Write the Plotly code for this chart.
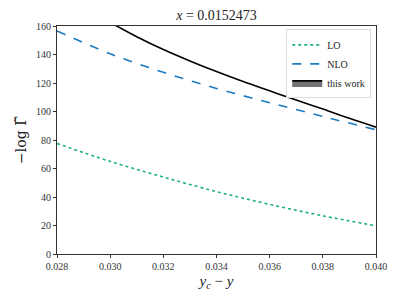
import plotly.graph_objects as go

# data
x_lo = [0.028, 0.030, 0.032, 0.034, 0.036, 0.038, 0.040]
lo = [77.5, 65.0, 54.0, 43.8, 34.8, 26.8, 19.8]

x_nlo = [0.028, 0.030, 0.032, 0.034, 0.036, 0.038, 0.040]
nlo = [156.5, 140.5, 127.5, 116.2, 106.2, 96.5, 87.2]

x_tw = [0.030, 0.031, 0.032, 0.033, 0.034, 0.035, 0.036, 0.037, 0.038, 0.039, 0.040]
tw = [162.5, 152.5, 143.5, 135.5, 128.0, 121.0, 114.5, 108.0, 101.8, 95.2, 89.0]

x_ticks = [0.028, 0.030, 0.032, 0.034, 0.036, 0.038, 0.040]
y_ticks = [0, 20, 40, 60, 80, 100, 120, 140, 160]

FONT = "Liberation Serif"

fig = go.Figure()
fig.add_trace(go.Scatter(x=x_lo, y=lo, mode="lines", name="LO",
                         line=dict(color="#1fb089", width=1.6, dash="dot", shape="spline")))
fig.add_trace(go.Scatter(x=x_nlo, y=nlo, mode="lines", name="NLO",
                         line=dict(color="#1a7bc2", width=1.6, dash="dash", shape="spline")))
fig.add_trace(go.Scatter(x=x_tw, y=tw, mode="lines", showlegend=False, legendgroup="tw",
                         line=dict(color="black", width=0, shape="spline"), hoverinfo="skip"))
fig.add_trace(go.Scatter(x=x_tw, y=tw, mode="lines", name="this work", legendgroup="tw",
                         fill="tonexty", fillcolor="rgba(80,80,80,0.8)",
                         line=dict(color="black", width=1.6, shape="spline")))

axis_common = dict(showgrid=False, zeroline=False, showline=True, linecolor="#333333",
                   linewidth=1, mirror=True, ticks="outside", ticklen=3, tickcolor="#333333",
                   tickfont=dict(family=FONT, size=10, color="#333333"))

fig.update_layout(
    width=391, height=291,
    margin=dict(l=43, r=21, t=17, b=43),
    paper_bgcolor="white", plot_bgcolor="white",
    font=dict(family=FONT, color="#222222"),
    title=dict(text="<i>x</i> = 0.0152473", x=0.5, xref="paper", y=0.976, yanchor="middle",
               font=dict(family=FONT, size=14, color="#222222")),
    xaxis=dict(range=[0.028, 0.040], tickvals=x_ticks,
               ticktext=[f"{v:.3f}" for v in x_ticks],
               title=dict(text="<i>y<sub>c</sub></i> − <i>y</i>", standoff=4,
                          font=dict(family=FONT, size=15)),
               **axis_common),
    yaxis=dict(range=[0, 160], tickvals=y_ticks,
               title=dict(text="−log Γ̃", standoff=6, font=dict(family="DejaVu Serif", size=14)),
               **axis_common),
    legend=dict(x=0.985, y=0.985, xanchor="right", yanchor="top",
                bgcolor="rgba(255,255,255,0.9)", bordercolor="#dddddd", borderwidth=1,
                font=dict(family=FONT, size=10, color="#222222"),
                tracegroupgap=0, itemwidth=30),
    showlegend=True,
)

fig.write_html("out.html")
